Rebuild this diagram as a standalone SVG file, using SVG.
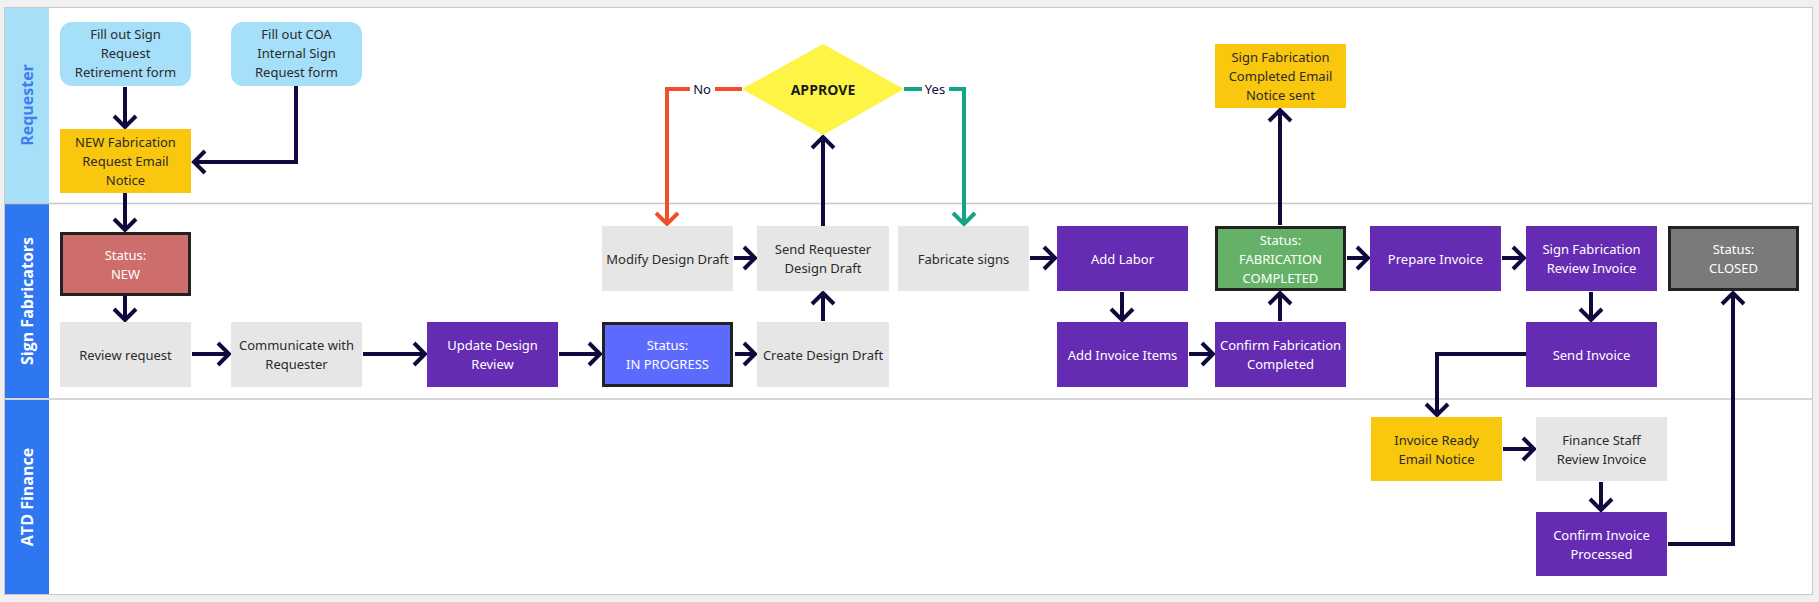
<svg xmlns="http://www.w3.org/2000/svg" width="1819" height="602" viewBox="0 0 1819 602">
<style>
.t{font-family:"Noto Sans","Liberation Sans",sans-serif;font-size:13px;text-anchor:middle;dominant-baseline:central}
.dk{fill:#2b2b2b}
.wh{fill:#ffffff}
.lane{font-family:"Open Sans","Noto Sans",sans-serif;font-size:16px;font-weight:bold;text-anchor:middle;dominant-baseline:central}
.c{fill:none;stroke:#0f0a3e;stroke-width:4}
.grey{fill:#e6e6e6}
.purple{fill:#652cb3}
.yellow{fill:#f9c70e}
.sky{fill:#a6dff9}
.status{stroke:#222222;stroke-width:3}
</style>
<defs>
<marker id="ah" markerUnits="userSpaceOnUse" markerWidth="30" markerHeight="30" viewBox="-15 -15 30 30" refX="0" refY="0" orient="auto" overflow="visible">
<path d="M-11,-11 L0,0 L-11,11" fill="none" stroke="#0f0a3e" stroke-width="4"/>
</marker>
<marker id="ahr" markerUnits="userSpaceOnUse" markerWidth="30" markerHeight="30" viewBox="-15 -15 30 30" refX="0" refY="0" orient="auto" overflow="visible">
<path d="M-11,-11 L0,0 L-11,11" fill="none" stroke="#f24e2a" stroke-width="4"/>
</marker>
<marker id="ahg" markerUnits="userSpaceOnUse" markerWidth="30" markerHeight="30" viewBox="-15 -15 30 30" refX="0" refY="0" orient="auto" overflow="visible">
<path d="M-11,-11 L0,0 L-11,11" fill="none" stroke="#12a584" stroke-width="4"/>
</marker>
</defs>
<rect x="0" y="0" width="1819" height="602" fill="#f0f0f0"/>
<rect x="4.5" y="7.5" width="1808" height="587" fill="#ffffff" stroke="#c8c8c8" stroke-width="1"/>
<g id="lanes">
<rect x="5" y="8" width="44" height="195" fill="#a7dff9"/>
<rect x="5" y="204" width="44" height="194" fill="#2e77f0"/>
<rect x="5" y="400" width="44" height="194" fill="#2e77f0"/>
<line x1="5" y1="203.5" x2="1813" y2="203.5" stroke="#c8c8c8" stroke-width="1.5"/>
<line x1="5" y1="399" x2="1813" y2="399" stroke="#c8c8c8" stroke-width="1.5"/>
<text class="lane" x="0" y="0" fill="#3d7ff0" transform="translate(27,105) rotate(-90)">Requester</text>
<text class="lane" x="0" y="0" fill="#ffffff" transform="translate(27,301) rotate(-90)">Sign Fabricators</text>
<text class="lane" x="0" y="0" fill="#ffffff" transform="translate(27,497) rotate(-90)">ATD Finance</text>
</g>
<g id="connectors">
<path class="c" d="M125 87 V127" marker-end="url(#ah)"/>
<path class="c" d="M296 86 V162 H194" marker-end="url(#ah)"/>
<path class="c" d="M125 193 V230" marker-end="url(#ah)"/>
<path class="c" d="M125 296 V320" marker-end="url(#ah)"/>
<path class="c" d="M192 354 H229" marker-end="url(#ah)"/>
<path class="c" d="M363 354 H425" marker-end="url(#ah)"/>
<path class="c" d="M559 354 H600" marker-end="url(#ah)"/>
<path class="c" d="M735 354 H755" marker-end="url(#ah)"/>
<path class="c" d="M823 321 V293" marker-end="url(#ah)"/>
<path class="c" d="M734 258 H755" marker-end="url(#ah)"/>
<path class="c" d="M823 226 V137" marker-end="url(#ah)"/>
<path d="M742 89 H667 V224" fill="none" stroke="#f24e2a" stroke-width="4" marker-end="url(#ahr)"/>
<path d="M904 89 H964 V224" fill="none" stroke="#12a584" stroke-width="4" marker-end="url(#ahg)"/>
<rect x="690" y="79" width="25" height="20" fill="#ffffff"/>
<text class="t" x="702" y="89" fill="#0f0a3e">No</text>
<rect x="922" y="79" width="27" height="20" fill="#ffffff"/>
<text class="t" x="935" y="89" fill="#0f0a3e">Yes</text>
<path class="c" d="M1030 258 H1055" marker-end="url(#ah)"/>
<path class="c" d="M1122 292 V320" marker-end="url(#ah)"/>
<path class="c" d="M1189 354 H1213" marker-end="url(#ah)"/>
<path class="c" d="M1280 321 V293" marker-end="url(#ah)"/>
<path class="c" d="M1280 225 V110" marker-end="url(#ah)"/>
<path class="c" d="M1347 258 H1368" marker-end="url(#ah)"/>
<path class="c" d="M1502 258 H1524" marker-end="url(#ah)"/>
<path class="c" d="M1591 292 V320" marker-end="url(#ah)"/>
<path class="c" d="M1526 354 H1437 V415" marker-end="url(#ah)"/>
<path class="c" d="M1503 449 H1534" marker-end="url(#ah)"/>
<path class="c" d="M1601 482 V510" marker-end="url(#ah)"/>
<path class="c" d="M1668 544 H1733 V293" marker-end="url(#ah)"/>
</g>
<g id="n-fill-sign">
<rect class="sky" x="60" y="22" width="131" height="64" rx="12"/>
<text class="t dk" x="125.5" y="34">Fill out Sign</text>
<text class="t dk" x="125.5" y="53">Request</text>
<text class="t dk" x="125.5" y="72">Retirement form</text>
</g>
<g id="n-fill-coa">
<rect class="sky" x="231" y="22" width="131" height="64" rx="12"/>
<text class="t dk" x="296.5" y="34">Fill out COA</text>
<text class="t dk" x="296.5" y="53">Internal Sign</text>
<text class="t dk" x="296.5" y="72">Request form</text>
</g>
<g id="n-new-email">
<rect class="yellow" x="60" y="129" width="131" height="64"/>
<text class="t dk" x="125.5" y="142">NEW Fabrication</text>
<text class="t dk" x="125.5" y="161">Request Email</text>
<text class="t dk" x="125.5" y="180">Notice</text>
</g>
<g id="n-status-new">
<rect x="61.5" y="233.5" width="128" height="61" fill="#cd6e6c" class="status"/>
<text class="t wh" x="125.5" y="254.5">Status:</text>
<text class="t wh" x="125.5" y="273.5">NEW</text>
</g>
<g id="n-review">
<rect class="grey" x="60" y="322" width="131" height="65"/>
<text class="t dk" x="125.5" y="354.5">Review request</text>
</g>
<g id="n-communicate">
<rect class="grey" x="231" y="322" width="131" height="65"/>
<text class="t dk" x="296.5" y="345">Communicate with</text>
<text class="t dk" x="296.5" y="364">Requester</text>
</g>
<g id="n-update">
<rect class="purple" x="427" y="322" width="131" height="65"/>
<text class="t wh" x="492.5" y="345">Update Design</text>
<text class="t wh" x="492.5" y="364">Review</text>
</g>
<g id="n-status-progress">
<rect x="603.5" y="323.5" width="128" height="62" fill="#5c6bfe" class="status"/>
<text class="t wh" x="667.5" y="345">Status:</text>
<text class="t wh" x="667.5" y="364">IN PROGRESS</text>
</g>
<g id="n-create">
<rect class="grey" x="757" y="322" width="132" height="65"/>
<text class="t dk" x="823" y="354.5">Create Design Draft</text>
</g>
<g id="n-modify">
<rect class="grey" x="602" y="226" width="131" height="65"/>
<text class="t dk" x="667.5" y="258.5">Modify Design Draft</text>
</g>
<g id="n-send-draft">
<rect class="grey" x="757" y="226" width="132" height="65"/>
<text class="t dk" x="823" y="249">Send Requester</text>
<text class="t dk" x="823" y="268">Design Draft</text>
</g>
<g id="n-approve">
<polygon points="823,44 904,89 823,135 742,89" fill="#fef445"/>
<text x="823" y="89" font-family="'Open Sans','Noto Sans',sans-serif" font-size="14" font-weight="bold" fill="#1a1a1a" text-anchor="middle" dominant-baseline="central">APPROVE</text>
</g>
<g id="n-fabricate">
<rect class="grey" x="898" y="226" width="131" height="65"/>
<text class="t dk" x="963.5" y="258.5">Fabricate signs</text>
</g>
<g id="n-labor">
<rect class="purple" x="1057" y="226" width="131" height="65"/>
<text class="t wh" x="1122.5" y="258.5">Add Labor</text>
</g>
<g id="n-invoice-items">
<rect class="purple" x="1057" y="322" width="131" height="65"/>
<text class="t wh" x="1122.5" y="354.5">Add Invoice Items</text>
</g>
<g id="n-status-fab">
<rect x="1216.5" y="227.5" width="128" height="62" fill="#65b168" class="status"/>
<text class="t wh" x="1280.5" y="239.5">Status:</text>
<text class="t wh" x="1280.5" y="258.5">FABRICATION</text>
<text class="t wh" x="1280.5" y="277.5">COMPLETED</text>
</g>
<g id="n-confirm-fab">
<rect class="purple" x="1215" y="322" width="131" height="65"/>
<text class="t wh" x="1280.5" y="345">Confirm Fabrication</text>
<text class="t wh" x="1280.5" y="364">Completed</text>
</g>
<g id="n-fab-email">
<rect class="yellow" x="1215" y="44" width="131" height="64"/>
<text class="t dk" x="1280.5" y="57">Sign Fabrication</text>
<text class="t dk" x="1280.5" y="76">Completed Email</text>
<text class="t dk" x="1280.5" y="95">Notice sent</text>
</g>
<g id="n-prepare">
<rect class="purple" x="1370" y="226" width="131" height="65"/>
<text class="t wh" x="1435.5" y="258.5">Prepare Invoice</text>
</g>
<g id="n-review-invoice">
<rect class="purple" x="1526" y="226" width="131" height="65"/>
<text class="t wh" x="1591.5" y="249">Sign Fabrication</text>
<text class="t wh" x="1591.5" y="268">Review Invoice</text>
</g>
<g id="n-status-closed">
<rect x="1669.5" y="227.5" width="128" height="62" fill="#7a7a7a" class="status"/>
<text class="t wh" x="1733.5" y="249">Status:</text>
<text class="t wh" x="1733.5" y="268">CLOSED</text>
</g>
<g id="n-send-invoice">
<rect class="purple" x="1526" y="322" width="131" height="65"/>
<text class="t wh" x="1591.5" y="354.5">Send Invoice</text>
</g>
<g id="n-invoice-ready">
<rect class="yellow" x="1371" y="417" width="131" height="64"/>
<text class="t dk" x="1436.5" y="439.5">Invoice Ready</text>
<text class="t dk" x="1436.5" y="458.5">Email Notice</text>
</g>
<g id="n-finance-review">
<rect class="grey" x="1536" y="417" width="131" height="64"/>
<text class="t dk" x="1601.5" y="439.5">Finance Staff</text>
<text class="t dk" x="1601.5" y="458.5">Review Invoice</text>
</g>
<g id="n-confirm-invoice">
<rect class="purple" x="1536" y="512" width="131" height="64"/>
<text class="t wh" x="1601.5" y="534.5">Confirm Invoice</text>
<text class="t wh" x="1601.5" y="553.5">Processed</text>
</g>
</svg>
